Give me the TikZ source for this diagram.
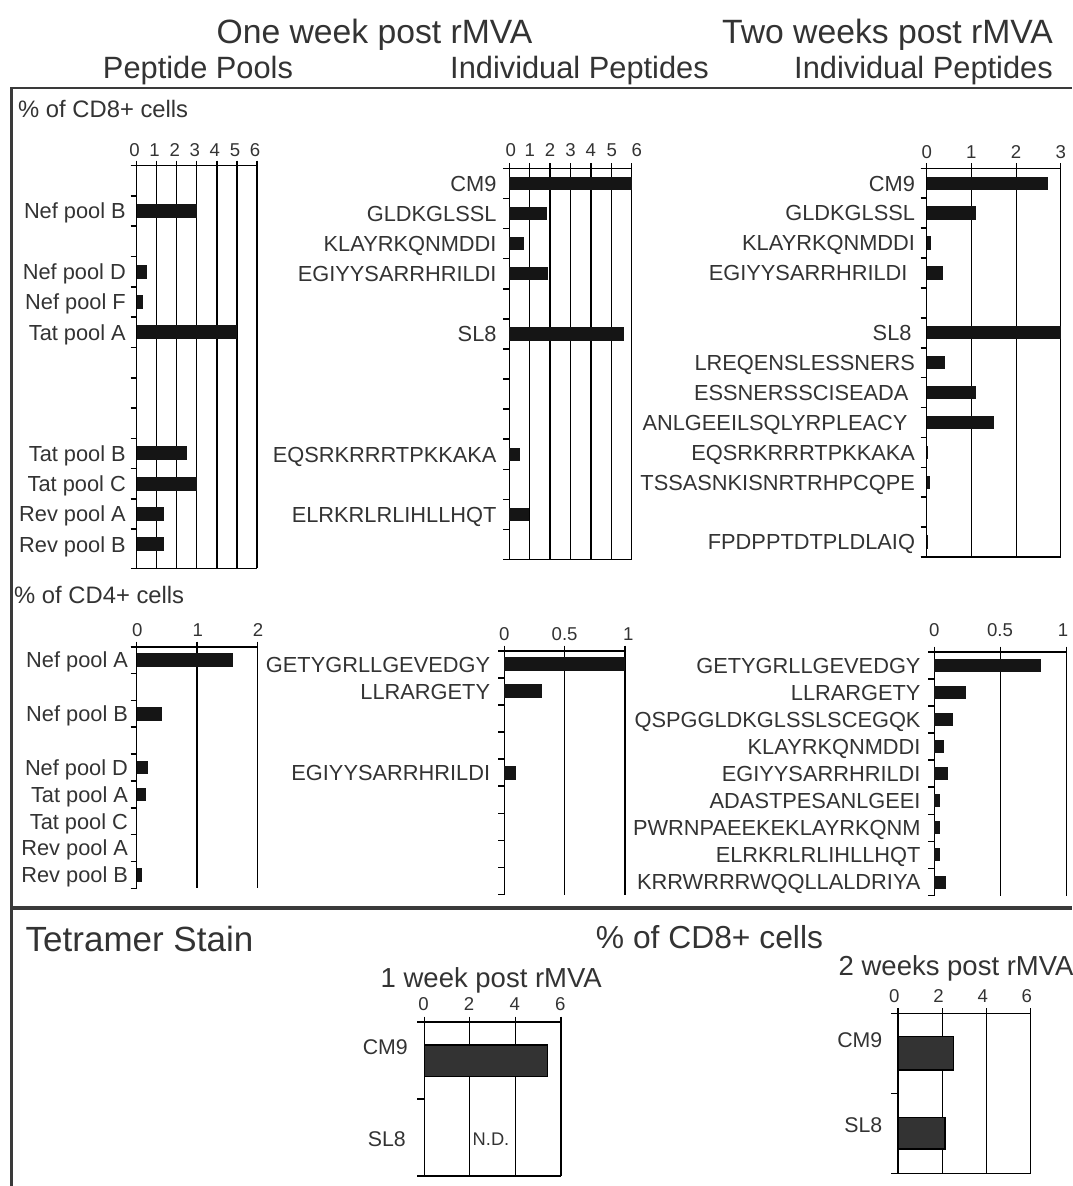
\documentclass[tikz,border=0pt]{standalone}
\usepackage{fontspec}
\setmainfont{Liberation Sans}
\usepackage{xcolor}
\usepackage{tikz}

\definecolor{ink}{HTML}{333333}
\definecolor{barcol}{HTML}{151515}
\definecolor{framecol}{HTML}{3A3A3A}

\tikzset{
	lab/.style={font=\fontsize{21.8}{26}\selectfont, text=ink, inner sep=0pt, anchor=base east, yshift=-7.8pt},
	num/.style={font=\fontsize{18.6}{22}\selectfont, text=ink, inner sep=0pt, anchor=base, yshift=-6.7pt},
	title/.style={text=ink, inner sep=0pt, anchor=base},
	gridline/.style={line width=1.3pt, draw=black},
	axisline/.style={line width=1.6pt, draw=black},
	bar/.style={fill=barcol},
	tbar/.style={fill=ink, draw=black, line width=1.2pt},
}

\begin{document}
\begin{tikzpicture}[x=1pt,y=-1pt]
	\useasboundingbox (0,0) rectangle (1072,1186);
	
	% headings
	\node[title, font=\fontsize{33.7}{40}\selectfont] (wk1) at (374.5,43) {One week post rMVA};
	\node[title, font=\fontsize{33.7}{40}\selectfont] (wk2) at (887.5,43) {Two weeks post rMVA};
	\node[title, font=\fontsize{30.8}{36}\selectfont] (pools) at (198,78) {Peptide Pools};
	\node[title, font=\fontsize{30.8}{36}\selectfont] (indiv1) at (579.5,78) {Individual Peptides};
	\node[title, font=\fontsize{30.8}{36}\selectfont] (indiv2) at (923.5,78) {Individual Peptides};
	
	% frame
	\draw[line width=2pt, framecol] (11,88) -- (1072,88);
	\draw[line width=3pt, framecol] (11,87) -- (11,1186);
	\draw[line width=4.5pt, framecol] (11,908) -- (1072,908);
	
	\node[title, anchor=base west, font=\fontsize{23.8}{28}\selectfont] (cd8) at (18,117) {\% of CD8+ cells};
	\node[title, anchor=base west, font=\fontsize{23.8}{28}\selectfont] (cd4) at (14,603) {\% of CD4+ cells};
	
	% one week, peptide pools, CD8
	\begin{scope}[shift={(136.5,165.6)}]
		\def\xu{20.1}\def\rh{30.3}\def\yb{402.7}
		\foreach \k in {0,...,6}{
			\draw[gridline] (\k*\xu,-5) -- (\k*\xu,\yb);
			\node[num] (a-t\k) at (\k*\xu-2,-15.6) {\k};
		}
		\foreach \k in {0,...,12}
			\draw[axisline] (-6,\k*\rh) -- (0,\k*\rh);
		\draw[axisline] (-6,0) -- (6*\xu,0);
		\draw[axisline] (-6,\yb) -- (6*\xu,\yb);
		\foreach \r/\name/\val in
		{1/Nef pool B/3, 3/Nef pool D/0.52, 4/Nef pool F/0.33, 5/Tat pool A/5,
			9/Tat pool B/2.52, 10/Tat pool C/3, 11/Rev pool A/1.36, 12/Rev pool B/1.38}{
			\fill[bar] (0,\r*\rh+0.5*\rh-7) rectangle (\val*\xu,\r*\rh+0.5*\rh+7);
			\node[lab] (a-\r) at (-10.5,\r*\rh+0.5*\rh) {\name};
		}
	\end{scope}
	
	% one week, individual peptides, CD8
	\begin{scope}[shift={(509.3,168.3)}]
		\def\xu{20.4}\def\rh{30.1}\def\yb{391.3}
		\foreach \k in {0,...,6}
			\draw[gridline] (\k*\xu,-5) -- (\k*\xu,\yb);
		\foreach \k/\dx in {0/1.5, 1/0, 2/0, 3/0, 4/0, 5/0.5, 6/5}
			\node[num] (b-t\k) at (\k*\xu+\dx,-18.3) {\k};
		\foreach \k in {0,...,13}
			\draw[axisline] (-6,\k*\rh) -- (0,\k*\rh);
		\draw[axisline] (-6,0) -- (6*\xu,0);
		\draw[axisline] (-6,\yb) -- (6*\xu,\yb);
		\foreach \r/\name/\val in
		{0/CM9/6, 1/GLDKGLSSL/1.83, 2/KLAYRKQNMDDI/0.74, 3/EGIYYSARRHRILDI/1.88,
			5/SL8/5.62, 9/EQSRKRRRTPKKAKA/0.52, 11/ELRKRLRLIHLLHQT/0.98}{
			\fill[bar] (0,\r*\rh+0.5*\rh-6.7) rectangle (\val*\xu,\r*\rh+0.5*\rh+6.7);
			\node[lab] (b-\r) at (-12.6,\r*\rh+0.5*\rh) {\name};
		}
	\end{scope}
	
	% two weeks, individual peptides, CD8
	\begin{scope}[shift={(926.7,168.3)}]
		\def\xu{44.7}\def\rh{29.9}\def\yb{388.4}
		\foreach \k in {0,...,3}{
			\draw[gridline, line width=1pt] (\k*\xu,-5) -- (\k*\xu,\yb);
			\node[num] (c-t\k) at (\k*\xu,-16.6) {\k};
		}
		\foreach \k in {0,...,13}
			\draw[axisline] (-6,\k*\rh) -- (0,\k*\rh);
		\draw[axisline] (-6,0) -- (3*\xu,0);
		\draw[axisline] (-6,\yb) -- (3*\xu,\yb);
		\foreach \r/\name/\val/\g in
		{0/CM9/2.71/11.5, 1/GLDKGLSSL/1.1/11.5, 2/KLAYRKQNMDDI/0.1/11.5, 3/EGIYYSARRHRILDI/0.36/19,
			5/SL8/3/15, 6/LREQENSLESSNERS/0.41/11.5, 7/ESSNERSSCISEADA/1.1/18,
			8/ANLGEEILSQLYRPLEACY/1.51/19, 9/EQSRKRRRTPKKAKA/0.04/11.5,
			10/TSSASNKISNRTRHPCQPE/0.07/11.5, 12/FPDPPTDTPLDLAIQ/0.04/11.5}{
			\fill[bar] (0,\r*\rh+0.5*\rh-6.7) rectangle (\val*\xu,\r*\rh+0.5*\rh+6.7);
			\node[lab] (c-\r) at (-\g,\r*\rh+0.5*\rh) {\name};
		}
	\end{scope}
	
	% one week, peptide pools, CD4
	\begin{scope}[shift={(136.7,646.7)}]
		\def\xu{60.3}\def\rh{26.85}\def\yb{241.6}
		\foreach \k in {0,...,2}{
			\draw[gridline] (\k*\xu,-5) -- (\k*\xu,\yb);
			\node[num] (d-t\k) at (\k*\xu+0.7,-16.7) {\k};
		}
		\foreach \k in {0,...,9}
			\draw[axisline] (-6,\k*\rh) -- (0,\k*\rh);
		\draw[axisline] (-6,0) -- (2*\xu,0);
		\foreach \r/\name/\val in
		{0/Nef pool A/1.6, 2/Nef pool B/0.42, 4/Nef pool D/0.19, 5/Tat pool A/0.15,
			6/Tat pool C/0, 7/Rev pool A/0, 8/Rev pool B/0.08}{
			\fill[bar] (0,\r*\rh+0.5*\rh-6.7) rectangle (\val*\xu,\r*\rh+0.5*\rh+6.7);
			\node[lab] (d-\r) at (-8.5,\r*\rh+0.5*\rh) {\name};
		}
	\end{scope}
	
	% one week, individual peptides, CD4
	\begin{scope}[shift={(504.3,650.7)}]
		\def\xu{120.7}\def\rh{27.1}\def\yb{244.3}
		\foreach \v/\t/\dx [count=\i] in {0/0/0, 0.5/0.5/0, 1/1/3.3}{
			\draw[gridline] (\v*\xu,-5) -- (\v*\xu,\yb);
			\node[num] (e-t\i) at (\v*\xu+\dx,-17.4) {\t};
		}
		\foreach \k in {0,...,9}
			\draw[axisline] (-6,\k*\rh) -- (0,\k*\rh);
		\draw[axisline] (-6,0) -- (\xu,0);
		\foreach \r/\name/\val in
		{0/GETYGRLLGEVEDGY/1, 1/LLRARGETY/0.31, 4/EGIYYSARRHRILDI/0.1}{
			\fill[bar] (0,\r*\rh+0.5*\rh-7) rectangle (\val*\xu,\r*\rh+0.5*\rh+7);
			\node[lab] (e-\r) at (-14,\r*\rh+0.5*\rh) {\name};
		}
	\end{scope}
	
	% two weeks, individual peptides, CD4
	\begin{scope}[shift={(934.3,651.7)}]
		\def\xu{132.3}\def\rh{27.1}\def\yb{244.3}
		\foreach \v/\t/\dx [count=\i] in {0/0/0, 0.5/0.5/-0.5, 1/1/-3.5}{
			\draw[gridline, line width=1pt] (\v*\xu,-5) -- (\v*\xu,\yb);
			\node[num] (f-t\i) at (\v*\xu+\dx,-21.7) {\t};
		}
		\foreach \k in {0,...,9}
			\draw[axisline] (-6,\k*\rh) -- (0,\k*\rh);
		\draw[axisline] (-6,0) -- (\xu,0);
		\foreach \r/\name/\val in
		{0/GETYGRLLGEVEDGY/0.81, 1/LLRARGETY/0.24, 2/QSPGGLDKGLSSLSCEGQK/0.14,
			3/KLAYRKQNMDDI/0.07, 4/EGIYYSARRHRILDI/0.1, 5/ADASTPESANLGEEI/0.04,
			6/PWRNPAEEKEKLAYRKQNM/0.04, 7/ELRKRLRLIHLLHQT/0.04, 8/KRRWRRRWQQLLALDRIYA/0.09}{
			\fill[bar] (0,\r*\rh+0.5*\rh-6.5) rectangle (\val*\xu,\r*\rh+0.5*\rh+6.5);
			\node[lab] (f-\r) at (-13.6,\r*\rh+0.5*\rh) {\name};
		}
	\end{scope}
	
	% tetramer stain
	\node[title, anchor=base west, font=\fontsize{35}{42}\selectfont] (tet) at (25.5,951) {Tetramer Stain};
	\node[title, font=\fontsize{31.8}{38}\selectfont] (tetcd8) at (709.5,948) {\% of CD8+ cells};
	\node[title, anchor=base west, font=\fontsize{27.5}{33}\selectfont] (tw1) at (380.5,987) {1 week post rMVA};
	\node[title, anchor=base west, font=\fontsize{27.5}{33}\selectfont] (tw2) at (838.5,975) {2 weeks post rMVA};
	
	\begin{scope}[shift={(424.2,1021.7)}]
		\def\xu{22.8}\def\rh{77.15}
		\foreach \v [count=\i] in {0,2,4,6}{
			\draw[gridline] (\v*\xu,-5) -- (\v*\xu,2*\rh);
			\node[num] (g-t\i) at (\v*\xu-0.7,-18.4) {\v};
		}
		\foreach \k in {0,1,2}
			\draw[axisline] (-7,\k*\rh) -- (0,\k*\rh);
		\draw[axisline] (-7,0) -- (6*\xu,0);
		\draw[axisline] (-7,2*\rh) -- (6*\xu,2*\rh);
		\draw[tbar] (0,23.3) rectangle (5.4*\xu,55);
		\node[lab, font=\fontsize{21.3}{26}\selectfont] (g-cm9) at (-16.2,25) {CM9};
		\node[lab, font=\fontsize{21.3}{26}\selectfont] (g-sl8) at (-18.2,116.6) {SL8};
		\node[num, anchor=base west, font=\fontsize{18.3}{22}\selectfont] (g-nd) at (48.3,117.3) {N.D.};
	\end{scope}
	
	\begin{scope}[shift={(898,1013.3)}]
		\def\xu{22.1}\def\rh{80}
		\foreach \v [count=\i] in {0,2,4,6}{
			\draw[gridline] (\v*\xu,-5) -- (\v*\xu,2*\rh);
			\node[num] (h-t\i) at (\v*\xu-3.7,-17.8) {\v};
		}
		\foreach \k in {0,1,2}
			\draw[axisline] (-7,\k*\rh) -- (0,\k*\rh);
		\draw[axisline] (-7,0) -- (6*\xu,0);
		\draw[axisline] (-7,2*\rh) -- (6*\xu,2*\rh);
		\draw[tbar] (0,23.4) rectangle (2.52*\xu,56.7);
		\draw[tbar] (0,104.4) rectangle (2.13*\xu,135.7);
		\node[lab, font=\fontsize{21.3}{26}\selectfont] (h-cm9) at (-15.5,25.9) {CM9};
		\node[lab, font=\fontsize{21.3}{26}\selectfont] (h-sl8) at (-15.5,110.9) {SL8};
	\end{scope}
\end{tikzpicture}
\end{document}
